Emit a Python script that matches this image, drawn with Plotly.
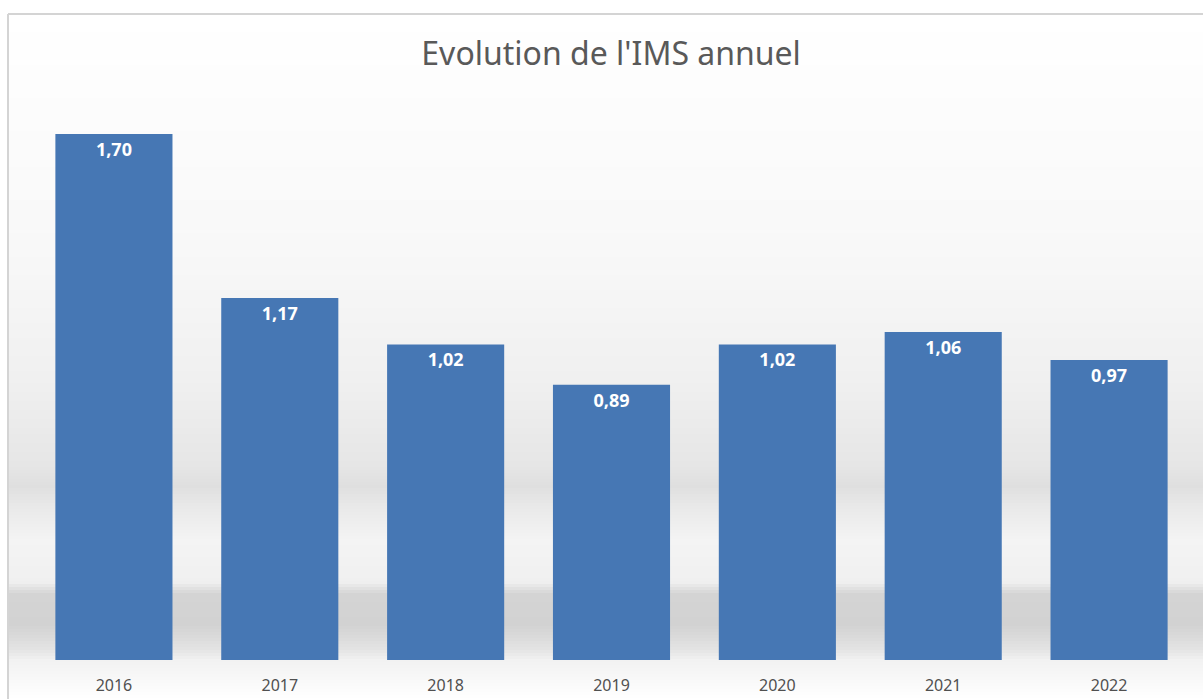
import plotly.graph_objects as go

years = ["2016", "2017", "2018", "2019", "2020", "2021", "2022"]
ims = [1.70, 1.17, 1.02, 0.89, 1.02, 1.06, 0.97]
labels = ["1,70", "1,17", "1,02", "0,89", "1,02", "1,06", "0,97"]

W, H = 1203, 699
ML, MR, MT, MB = 31, 11, 90, 39
PW, PH = W - ML - MR, H - MT - MB

def px2py(y):
    return (H - MB - y) / PH

def px2px(x):
    return (x - ML) / PW

# background gradient stops (pixel row, grey level)
stops = [(14, 255), (250, 248), (380, 240), (465, 230), (486, 223), (505, 232),
         (540, 244), (582, 240), (594, 212), (625, 210), (650, 228), (660, 242), (699, 255)]

def grey(y):
    for (y0, g0), (y1, g1) in zip(stops[:-1], stops[1:]):
        if y0 <= y <= y1:
            t = (y - y0) / (y1 - y0) if y1 > y0 else 0
            return int(round(g0 + (g1 - g0) * t))
    return 255

shapes = []
step = 3
for y in range(14, 699, step):
    g = grey(y + step / 2)
    shapes.append(dict(type="rect", xref="paper", yref="paper", layer="below",
                       x0=px2px(9), x1=px2px(1203), y0=px2py(y + step + 1), y1=px2py(y),
                       line=dict(width=0), fillcolor=f"rgb({g},{g},{g})"))
# chart border
shapes.append(dict(type="line", xref="paper", yref="paper", x0=px2px(8), x1=px2px(8),
                   y0=px2py(14), y1=px2py(699), line=dict(color="#d4d4d4", width=2)))
shapes.append(dict(type="line", xref="paper", yref="paper", x0=px2px(8), x1=px2px(1203),
                   y0=px2py(14), y1=px2py(14), line=dict(color="#d4d4d4", width=2)))

fig = go.Figure(go.Bar(
    x=years, y=ims, text=labels, textposition="inside", insidetextanchor="end",
    textangle=0,
    textfont=dict(family="Noto Sans", size=18, color="white", weight="bold"),
    marker=dict(color="#4677b4", line=dict(width=0)),
    cliponaxis=False,
))

fig.update_layout(
    width=W, height=H,
    margin=dict(l=ML, r=MR, t=MT, b=MB),
    paper_bgcolor="white", plot_bgcolor="rgba(0,0,0,0)",
    title=dict(text="Evolution de l'IMS annuel", x=0.508, xanchor="center",
               y=1 - 54 / H, yanchor="middle",
               font=dict(family="Noto Sans", size=32, color="#595959")),
    bargap=0.294,
    showlegend=False,
    shapes=shapes,
    uniformtext=dict(minsize=18, mode="show"),
)
fig.update_xaxes(showgrid=False, showline=False, ticks="", zeroline=False,
                 ticklabelstandoff=14, automargin=False,
                 tickfont=dict(family="Noto Sans", size=16, color="#505050"))
fig.update_yaxes(range=[0, PH / 309.4], visible=False, showgrid=False, zeroline=False,
                 automargin=False)

fig.write_html("out.html", config={"displayModeBar": False},
               post_script="document.body.style.margin='0';document.body.style.overflow='hidden';")
